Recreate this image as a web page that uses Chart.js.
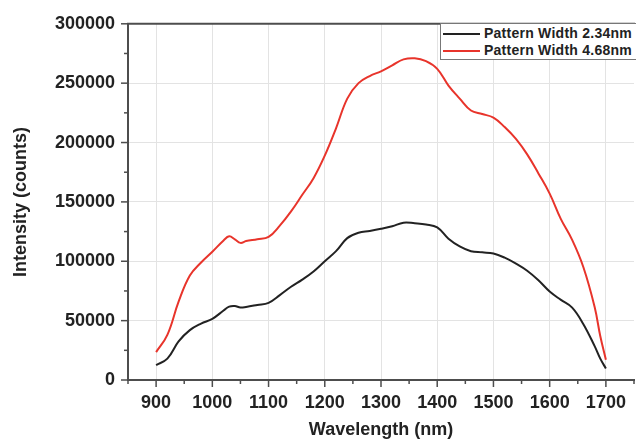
<!DOCTYPE html>
<html>
<head>
<meta charset="utf-8">
<script src="https://cdn.jsdelivr.net/npm/chart.js@4"></script>
<style>
  html, body { margin: 0; padding: 0; background: #fff; }
  #wrap { position: relative; width: 636px; height: 441px; overflow: hidden; }
  #chartBox { position: absolute; left: 0; top: 0; width: 646px; height: 441px; }
  #legend {
    position: absolute; left: 440px; top: 23px; width: 210px; height: 35px;
    border: 1px solid #777; background: #fff;
    font: bold 14px "Liberation Sans", Arial, sans-serif; color: #222; letter-spacing: 0.25px;
  }
  #legend .row { position: absolute; left: 2px; height: 17px; line-height: 17px; white-space: nowrap; }
  #legend .swatch { display: inline-block; width: 37px; height: 0; vertical-align: middle; margin-right: 4px; }
</style>
</head>
<body>
<div id="wrap">
  <div id="chartBox"><canvas id="lineChart" width="646" height="441"></canvas></div>
  <div id="legend"></div>
</div>
<script>
// Wavelength (nm) sample points
const wavelengths = [900, 920, 940, 960, 980, 1000, 1020, 1030, 1040, 1050, 1060, 1080, 1100, 1120, 1140, 1160, 1180, 1200, 1220, 1240, 1260, 1280, 1300, 1320, 1340, 1360, 1380, 1400, 1420, 1440, 1460, 1480, 1500, 1520, 1540, 1560, 1580, 1600, 1620, 1640, 1660, 1680, 1690, 1700];

// Intensity (counts)
const width234 = [12500, 18000, 32500, 42000, 47500, 51500, 58500, 61800, 62300, 61000, 61500, 63200, 65000, 71500, 78500, 84500, 91400, 100000, 108500, 119500, 124000, 125500, 127300, 129500, 132500, 132000, 131000, 128500, 119000, 112500, 108500, 107500, 106500, 103000, 98000, 92000, 84000, 74500, 67500, 61000, 47000, 28500, 18000, 9700];
const width468 = [23500, 38000, 66000, 88000, 99000, 108000, 117500, 121000, 118500, 115500, 117000, 118500, 120500, 130000, 142000, 156000, 170000, 189000, 212000, 237000, 250000, 256000, 260000, 265000, 270000, 271000, 268500, 262000, 248000, 237000, 227000, 224000, 221000, 213000, 203000, 190000, 174000, 157000, 135500, 118000, 95000, 61500, 37000, 17000];

// Series names and colours
const seriesNames = ['Pattern Width 2.34nm', 'Pattern Width 4.68nm'];
const seriesColors = ['#222222', '#e8342b'];

// Axis ticks
const xTickLabels = [900, 1000, 1100, 1200, 1300, 1400, 1500, 1600, 1700];
const yTickLabels = [0, 50000, 100000, 150000, 200000, 250000, 300000];

const FONT = '"Liberation Sans", Arial, sans-serif';
const INK = '#222';
const AXIS = '#4d4d4d';
const GRID = '#e3e3e3';

const toPoints = vals => wavelengths.map((w, i) => ({ x: w, y: vals[i] }));

// draws short outside tick marks (major + minor) and the top frame line
const frameTicks = {
    id: 'frameTicks',
    afterDraw(chart) {
        const { ctx, chartArea, scales } = chart;
        ctx.save();
        ctx.strokeStyle = AXIS;
        ctx.lineWidth = 2;
        ctx.beginPath();
        ctx.moveTo(chartArea.left - 1, chartArea.top);
        ctx.lineTo(chartArea.right + 1, chartArea.top);
        ctx.stroke();

        ctx.lineWidth = 1.5;
        scales.y.ticks.forEach(t => {
            const py = scales.y.getPixelForValue(t.value);
            const len = yTickLabels.includes(t.value) ? 6 : 3;
            ctx.beginPath();
            ctx.moveTo(chartArea.left - len - 1, py);
            ctx.lineTo(chartArea.left, py);
            ctx.stroke();
        });
        scales.x.ticks.forEach(t => {
            const px = scales.x.getPixelForValue(t.value);
            const len = xTickLabels.includes(t.value) ? 6 : 3;
            ctx.beginPath();
            ctx.moveTo(px, chartArea.bottom);
            ctx.lineTo(px, chartArea.bottom + len + 1);
            ctx.stroke();
        });
        ctx.restore();
    }
};

const ctx = document.getElementById('lineChart').getContext('2d');

new Chart(ctx, {
    type: 'line',
    data: {
        datasets: [
            {
                label: seriesNames[0],
                data: toPoints(width234),
                borderColor: seriesColors[0],
                backgroundColor: seriesColors[0],
                borderWidth: 2,
                pointRadius: 0,
                tension: 0.4
            },
            {
                label: seriesNames[1],
                data: toPoints(width468),
                borderColor: seriesColors[1],
                backgroundColor: seriesColors[1],
                borderWidth: 2,
                pointRadius: 0,
                tension: 0.4
            }
        ]
    },
    options: {
        responsive: false,
        animation: false,
        layout: { padding: { top: 19, right: 3, left: 0, bottom: 0 } },
        plugins: {
            legend: { display: false },
            tooltip: { enabled: false }
        },
        scales: {
            x: {
                type: 'linear',
                min: 850,
                max: 1750,
                afterFit: s => { s.height = 61; },
                border: { color: AXIS, width: 2 },
                grid: {
                    drawTicks: false,
                    color: c => (c.tick && xTickLabels.includes(c.tick.value)) ? GRID : 'rgba(0,0,0,0)'
                },
                ticks: {
                    stepSize: 50,
                    autoSkip: false,
                    maxRotation: 0,
                    padding: 12,
                    color: INK,
                    font: { family: FONT, size: 18, weight: 'bold' },
                    callback: v => xTickLabels.includes(v) ? String(v) : ''
                },
                title: {
                    display: true,
                    text: 'Wavelength (nm)',
                    color: INK,
                    font: { family: FONT, size: 18, weight: 'bold' },
                    padding: { top: 0, bottom: 0 }
                }
            },
            y: {
                min: 0,
                max: 300000,
                afterFit: s => { s.width = 128; },
                border: { color: AXIS, width: 2 },
                grid: {
                    drawTicks: false,
                    color: c => (c.tick && yTickLabels.includes(c.tick.value)) ? GRID : 'rgba(0,0,0,0)'
                },
                ticks: {
                    stepSize: 25000,
                    autoSkip: false,
                    padding: 13,
                    color: INK,
                    font: { family: FONT, size: 18, weight: 'bold' },
                    callback: v => yTickLabels.includes(v) ? String(v) : ''
                },
                title: {
                    display: true,
                    text: 'Intensity (counts)',
                    color: INK,
                    font: { family: FONT, size: 18, weight: 'bold' },
                    padding: { top: 10, bottom: 0 }
                }
            }
        }
    },
    plugins: [frameTicks]
});

// HTML legend inside the plot box
const legendEl = document.getElementById('legend');
seriesNames.forEach((name, i) => {
    const row = document.createElement('div');
    row.className = 'row';
    row.style.top = (1 + i * 17) + 'px';
    const sw = document.createElement('span');
    sw.className = 'swatch';
    sw.style.borderTop = '2px solid ' + seriesColors[i];
    row.appendChild(sw);
    row.appendChild(document.createTextNode(name));
    legendEl.appendChild(row);
});
</script>
</body>
</html>
